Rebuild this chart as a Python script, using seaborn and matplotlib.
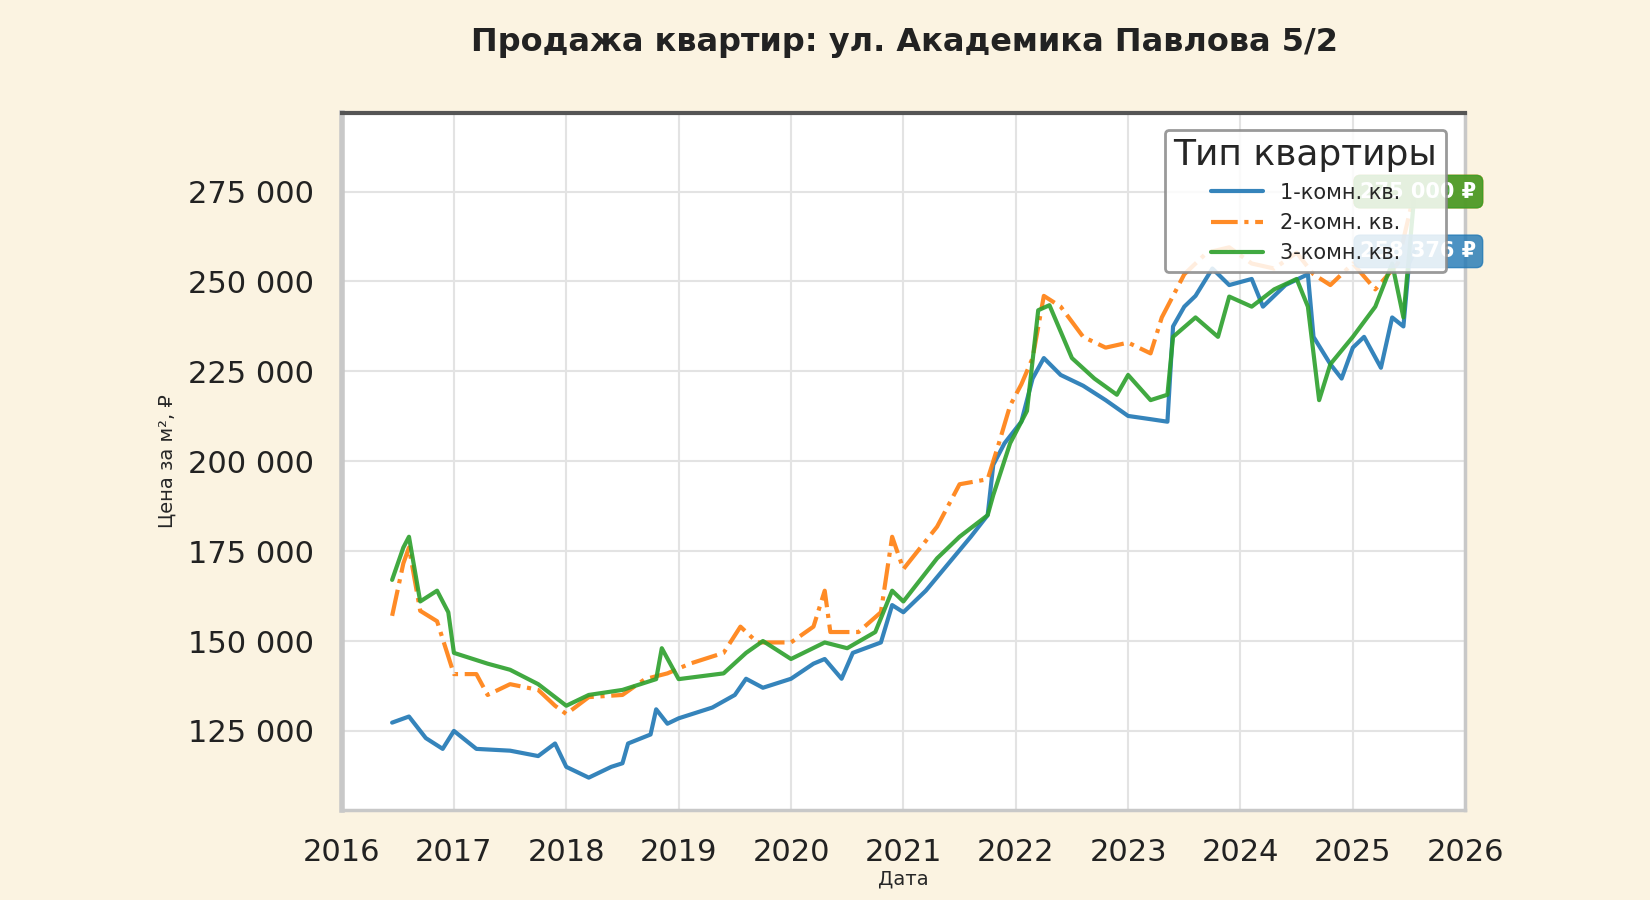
import numpy as np
import pandas as pd
import matplotlib.pyplot as plt
import matplotlib.ticker as mticker
import seaborn as sns

# значения (год в долях, цена за м²)
x1 = [2016.45, 2016.6, 2016.75, 2016.9, 2017.0, 2017.2, 2017.5, 2017.75, 2017.9, 2018.0, 2018.2,
      2018.4, 2018.5, 2018.55, 2018.75, 2018.8, 2018.9, 2019.0, 2019.3, 2019.5, 2019.6, 2019.75,
      2020.0, 2020.2, 2020.3, 2020.45, 2020.55, 2020.8, 2020.9, 2021.0, 2021.2, 2021.4, 2021.6,
      2021.75, 2021.8, 2021.9, 2022.05, 2022.15, 2022.25, 2022.4, 2022.6, 2022.8, 2023.0, 2023.2,
      2023.35, 2023.4, 2023.5, 2023.6, 2023.75, 2023.9, 2024.1, 2024.2, 2024.4, 2024.6, 2024.65,
      2024.8, 2024.9, 2025.0, 2025.1, 2025.25, 2025.35, 2025.45, 2025.5, 2025.55]
y1 = [127300, 129000, 123000, 120000, 125000, 120000, 119500, 118000, 121500, 115000, 112000,
      115000, 116000, 121500, 124000, 131000, 127000, 128500, 131500, 135000, 139500, 137000,
      139500, 143700, 145000, 139500, 146700, 149600, 160000, 158000, 164000, 171500, 179000,
      185000, 199000, 205000, 211000, 223000, 228700, 224000, 221000, 217000, 212600, 211700,
      211000, 237500, 243000, 246000, 253600, 249000, 250700, 243000, 249000, 252000, 234600,
      227000, 223000, 231600, 234600, 226000, 240000, 237500, 255000, 258376]

x2 = [2016.45, 2016.55, 2016.6, 2016.7, 2016.85, 2017.0, 2017.2, 2017.3, 2017.5, 2017.75, 2017.9,
      2018.0, 2018.2, 2018.5, 2018.7, 2018.9, 2019.1, 2019.4, 2019.55, 2019.7, 2020.0, 2020.2,
      2020.3, 2020.35, 2020.6, 2020.8, 2020.9, 2021.0, 2021.3, 2021.5, 2021.75, 2021.85, 2021.95,
      2022.05, 2022.15, 2022.25, 2022.4, 2022.6, 2022.8, 2023.0, 2023.2, 2023.3, 2023.4, 2023.5,
      2023.7, 2023.9, 2024.1, 2024.3, 2024.5, 2024.65, 2024.8, 2025.0, 2025.2, 2025.4, 2025.55]
y2 = [157000, 171600, 176000, 158400, 155500, 140800, 140800, 135000, 138000, 136400, 132000,
      129700, 134400, 135000, 139400, 141000, 143700, 146700, 154000, 149600, 149600, 154000,
      164000, 152500, 152500, 158000, 179000, 170000, 181800, 193600, 195000, 205000, 215500,
      221400, 228700, 246000, 243000, 234600, 231600, 233000, 230000, 240000, 246000, 252000,
      258000, 259500, 255000, 253600, 258000, 252000, 249000, 255000, 247800, 255000, 275019]

x3 = [2016.45, 2016.55, 2016.6, 2016.7, 2016.85, 2016.95, 2017.0, 2017.3, 2017.5, 2017.75, 2018.0,
      2018.2, 2018.5, 2018.8, 2018.85, 2019.0, 2019.4, 2019.6, 2019.75, 2020.0, 2020.3, 2020.5,
      2020.75, 2020.9, 2021.0, 2021.3, 2021.5, 2021.75, 2021.8, 2021.95, 2022.1, 2022.2, 2022.3,
      2022.5, 2022.7, 2022.9, 2023.0, 2023.2, 2023.35, 2023.4, 2023.6, 2023.8, 2023.9, 2024.1,
      2024.3, 2024.5, 2024.6, 2024.7, 2024.8, 2025.0, 2025.2, 2025.35, 2025.45, 2025.55]
y3 = [167000, 176000, 179000, 161000, 164000, 158000, 146700, 143700, 142000, 138000, 132000,
      135000, 136400, 139400, 148000, 139400, 141000, 146700, 150000, 145000, 149600, 148000,
      152500, 164000, 161000, 173000, 179000, 185000, 190600, 205000, 214000, 242000, 243400,
      228700, 223000, 218500, 224000, 217000, 218500, 234600, 240000, 234600, 245800, 243000,
      247800, 250700, 243000, 217000, 227000, 234600, 243000, 255000, 240000, 275000]

names = ['1-комн. кв.', '2-комн. кв.', '3-комн. кв.']
colors = ['#1f77b4', '#ff7f0e', '#2ca02c']
styles = ['-', '-.', '-']

sns.set_theme(style='whitegrid')
plt.rcParams['font.family'] = ['DejaVu Sans']

fig = plt.figure(figsize=(16.5, 9), dpi=100, facecolor='#fbf3e1')
ax = fig.add_axes([0.207, 0.10, 0.681, 0.775])
ax.set_facecolor('white')

series = [(x1, y1), (x2, y2), (x3, y3)]
for (xs, ys), name, c, ls in zip(series, names, colors, styles):
    df = pd.DataFrame({'x': xs, 'y': ys})
    sns.lineplot(data=df, x='x', y='y', ax=ax, color=c, linestyle=ls, linewidth=3,
                 alpha=0.9, label=name)

# подписи последних значений (частично под легендой, как в оригинале)
for (xs, ys), c in zip([series[1], series[2], series[0]], [colors[1], colors[2], colors[0]]):
    txt = f"{ys[-1]:,.0f} ₽".replace(',', ' ')
    ax.annotate(txt, (xs[-1], ys[-1]), xytext=(2026.1, ys[-1]), textcoords='data',
                ha='right', va='center', color='white', fontsize=15, fontweight='bold',
                bbox=dict(boxstyle='round,pad=0.3', fc=c, ec=c, alpha=0.8),
                annotation_clip=False, zorder=5)

ax.set_xlim(2016, 2026)
ax.set_ylim(103000, 297000)
ax.set_xticks(range(2016, 2027))
ax.yaxis.set_major_formatter(mticker.FuncFormatter(lambda v, p: f"{v:,.0f}".replace(',', ' ')))
ax.set_yticks([125000, 150000, 175000, 200000, 225000, 250000, 275000])
ax.tick_params(labelsize=22, colors='#222222')
ax.tick_params(axis='x', pad=14)
ax.tick_params(axis='y', pad=14)
ax.grid(color='#e3e3e3', linewidth=1.5)

ax.spines['top'].set_color('#555555')
ax.spines['top'].set_linewidth(3)
for s in ['left', 'right', 'bottom']:
    ax.spines[s].set_color('#c8c8c8')
    ax.spines[s].set_linewidth(2.5)
ax.spines['left'].set_linewidth(4)

ax.set_xlabel('Дата', fontsize=14, labelpad=2)
ax.set_ylabel('Цена за м², ₽', fontsize=14, labelpad=8)
fig.suptitle('Продажа квартир: ул. Академика Павлова 5/2', fontsize=23, fontweight='bold',
             x=0.548, y=0.97, color='#222222')

leg = ax.legend(title='Тип квартиры', loc='upper right', fontsize=15, title_fontsize=26,
                frameon=True, framealpha=0.85, bbox_to_anchor=(0.992, 0.99), handlelength=2.5)
leg.get_frame().set_edgecolor('#888888')
leg.get_frame().set_linewidth(2)
leg.set_zorder(10)

fig.savefig('out.png', dpi=100, facecolor=fig.get_facecolor())
